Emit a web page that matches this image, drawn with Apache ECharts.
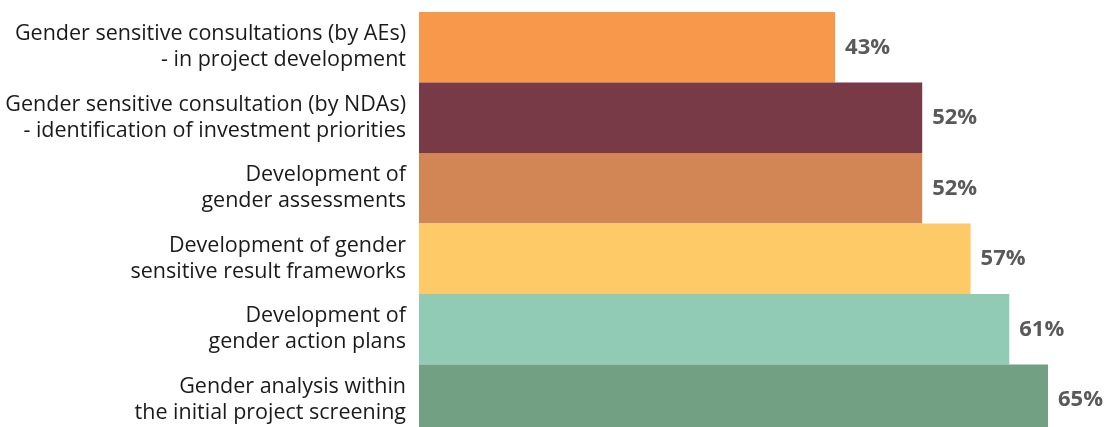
<!DOCTYPE html>
<html>
<head>
<meta charset="utf-8">
<script src="https://cdn.jsdelivr.net/npm/echarts@6/dist/echarts.min.js"></script>
<style>
  html, body { margin: 0; padding: 0; background: #fff; }
  #chart { width: 1107px; height: 427px; }
</style>
</head>
<body>
<div id="chart"></div>
<script>
// categories, top to bottom
const categories = [
  "Gender sensitive consultations (by AEs)\n- in project development",
  "Gender sensitive consultation (by NDAs)\n- identification of investment priorities",
  "Development of\ngender assessments",
  "Development of gender\nsensitive result frameworks",
  "Development of\ngender action plans",
  "Gender analysis within\nthe initial project screening"
];
const values = [43, 52, 52, 57, 61, 65];
const barColors = ["#F7984A", "#783A47", "#D38655", "#FECA67", "#92CBB5", "#71A083"];

const chart = echarts.init(document.getElementById("chart"));

chart.setOption({
  animation: false,
  grid: { left: 419, top: 12, width: 629, height: 423, outerBoundsMode: "none" },
  xAxis: {
    type: "value",
    min: 0,
    max: 65,
    show: false
  },
  yAxis: {
    type: "category",
    inverse: true,
    data: categories,
    axisLine: { show: false },
    axisTick: { show: false },
    axisLabel: {
      margin: 13,
      color: "#1a1a1a",
      fontFamily: "Open Sans",
      fontSize: 21.5,
      lineHeight: 26,
      align: "right"
    }
  },
  series: [
    {
      type: "bar",
      barCategoryGap: 0,
      data: values.map((v, i) => ({ value: v, itemStyle: { color: barColors[i] } })),
      label: {
        show: true,
        position: "right",
        distance: 10,
        formatter: p => p.value + "%",
        color: "#595959",
        fontFamily: "Open Sans",
        fontWeight: "bold",
        fontSize: 22
      }
    }
  ]
});
</script>
</body>
</html>
